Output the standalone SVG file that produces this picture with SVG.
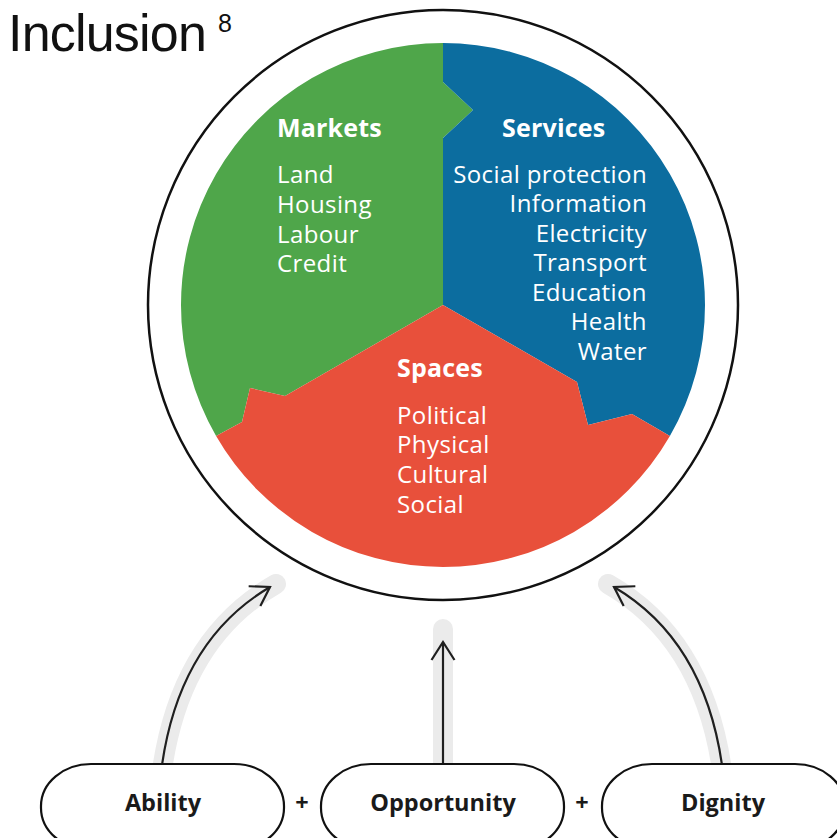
<svg xmlns="http://www.w3.org/2000/svg" width="837" height="838" viewBox="0 0 837 838">
<style>
.w{fill:#fff;font-family:"Open Sans","DejaVu Sans",sans-serif;font-size:24px;letter-spacing:0.4px}
.wb{fill:#fff;font-family:"Open Sans","DejaVu Sans",sans-serif;font-size:25px;font-weight:bold;letter-spacing:0.2px}
.band{fill:none;stroke:#ebebeb;stroke-width:20;stroke-linecap:round}
.arr{fill:none;stroke:#1f1f1f;stroke-width:2.2}
.pill{fill:#fff;stroke:#111;stroke-width:2.2}
.pt{fill:#1a1a1a;font-family:"Open Sans","DejaVu Sans",sans-serif;font-size:23.5px;font-weight:bold;text-anchor:middle}
</style>
<defs>
<marker id="ah" markerUnits="userSpaceOnUse" markerWidth="40" markerHeight="40" viewBox="-30 -20 40 40" refX="0" refY="0" orient="auto" overflow="visible">
<path d="M-18,-11.5 L0,0 L-18,11.5" fill="none" stroke="#1f1f1f" stroke-width="2.2"/>
</marker>
</defs>
<text x="8" y="51" font-family="'Liberation Sans',Arial,sans-serif" font-size="52" letter-spacing="-0.8" fill="#111">Inclusion</text>
<text x="218" y="32" font-family="'Liberation Sans',Arial,sans-serif" font-size="25" fill="#111">8</text>
<circle cx="443" cy="305" r="295" fill="#fff" stroke="#111" stroke-width="2.5"/>
<g id="markets">
<path d="M443,305 L443,138 L473,110 L443,82 L443,43 A262,262 0 0,0 216.1,436 L242,422 L250,388 L285,396 Z" fill="#4fa64a"/>
<text class="wb" x="277" y="137">Markets</text>
<text class="w" x="277" y="183">Land</text>
<text class="w" x="277" y="213">Housing</text>
<text class="w" x="277" y="243">Labour</text>
<text class="w" x="277" y="272">Credit</text>
</g>
<g id="services">
<path d="M443,305 L443,138 L473,110 L443,82 L443,43 A262,262 0 0,1 669.9,436 L632,414 L588,425 L577,382 Z" fill="#0c6d9f"/>
<text class="wb" x="502" y="137">Services</text>
<g text-anchor="end">
<text class="w" x="647" y="183">Social protection</text>
<text class="w" x="647" y="212">Information</text>
<text class="w" x="647" y="242">Electricity</text>
<text class="w" x="647" y="271">Transport</text>
<text class="w" x="647" y="301">Education</text>
<text class="w" x="647" y="330">Health</text>
<text class="w" x="647" y="360">Water</text>
</g>
</g>
<g id="spaces">
<path d="M443,305 L285,396 L250,388 L242,422 L216.1,436 A262,262 0 0,0 669.9,436 L632,414 L588,425 L577,382 Z" fill="#e8503b"/>
<text class="wb" x="397" y="377">Spaces</text>
<text class="w" x="397" y="424">Political</text>
<text class="w" x="397" y="453">Physical</text>
<text class="w" x="397" y="483">Cultural</text>
<text class="w" x="397" y="513">Social</text>
</g>
<g id="connectors">
<path class="band" d="M162,770 Q181,638 276,584"/>
<path class="band" d="M443,770 L443,629"/>
<path class="band" d="M722,770 Q703,638 608,584"/>
<path class="arr" d="M162,765 Q180,640 270,587" marker-end="url(#ah)"/>
<path class="arr" d="M443,765 L443,642" marker-end="url(#ah)"/>
<path class="arr" d="M722,765 Q704,640 614,587" marker-end="url(#ah)"/>
</g>
<g id="ability">
<rect class="pill" x="41" y="764" width="243" height="86" rx="50" ry="42"/>
<text class="pt" x="163" y="811">Ability</text>
</g>
<text class="pt" x="302" y="811" font-size="20">+</text>
<g id="opportunity">
<rect class="pill" x="321" y="764" width="243" height="86" rx="50" ry="42"/>
<text class="pt" x="443" y="811">Opportunity</text>
</g>
<text class="pt" x="582" y="811" font-size="20">+</text>
<g id="dignity">
<rect class="pill" x="602" y="764" width="243" height="86" rx="50" ry="42"/>
<text class="pt" x="723" y="811">Dignity</text>
</g>
</svg>
